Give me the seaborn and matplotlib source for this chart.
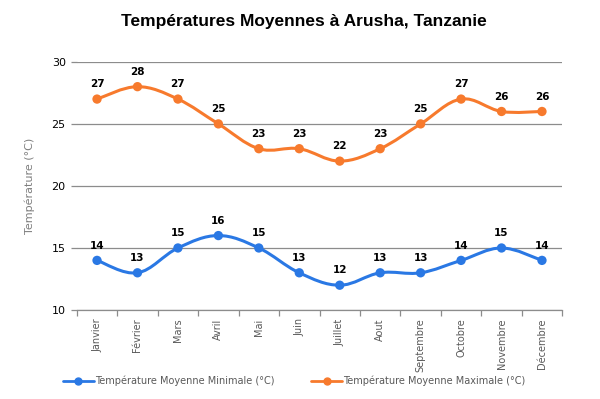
import numpy as np
import pandas as pd
import matplotlib
matplotlib.use('Agg')
import matplotlib.pyplot as plt
from matplotlib.path import Path
from matplotlib.patches import PathPatch
from matplotlib.lines import Line2D
import seaborn as sns

# Données
mois = ['Janvier', 'Février', 'Mars', 'Avril', 'Mai', 'Juin', 'Juillet',
        'Aout', 'Septembre', 'Octobre', 'Novembre', 'Décembre']
temp_min = [14, 13, 15, 16, 15, 13, 12, 13, 13, 14, 15, 14]
temp_max = [27, 28, 27, 25, 23, 23, 22, 23, 25, 27, 26, 26]
nom_min = 'Température Moyenne Minimale (°C)'
nom_max = 'Température Moyenne Maximale (°C)'

BLEU = '#2a78e4'
ORANGE = '#f77a2d'
GRIS = '#595959'


def courbe_lisse(ax, xs, ys, couleur, tension=0.18):
    # courbe de Bezier passant par les points (style "spline" d'Excel)
    pts = np.column_stack([xs, ys]).astype(float)
    verts = [tuple(pts[0])]
    codes = [Path.MOVETO]
    n = len(pts)
    for i in range(n - 1):
        p0 = pts[i - 1] if i > 0 else pts[i]
        p1 = pts[i]
        p2 = pts[i + 1]
        p3 = pts[i + 2] if i + 2 < n else pts[i + 1]
        c1 = p1 + (p2 - p0) * tension
        c2 = p2 - (p3 - p1) * tension
        verts += [tuple(c1), tuple(c2), tuple(p2)]
        codes += [Path.CURVE4] * 3
    ax.add_patch(PathPatch(Path(verts, codes), facecolor='none',
                           edgecolor=couleur, lw=2.2, zorder=3))


df = pd.DataFrame({
    'idx': list(range(len(mois))) * 2,
    'temp': temp_min + temp_max,
    'serie': [nom_min] * len(mois) + [nom_max] * len(mois),
})

sns.set_style('white')
plt.rcParams['font.family'] = ['DejaVu Sans']

fig = plt.figure(figsize=(6, 3.99), dpi=100)
ax = fig.add_axes([0.128, 0.223, 0.809, 0.622])

sns.scatterplot(data=df, x='idx', y='temp', hue='serie',
                palette={nom_min: BLEU, nom_max: ORANGE},
                s=45, edgecolor='none', legend=False, zorder=4, ax=ax)

for vals, coul in [(temp_min, BLEU), (temp_max, ORANGE)]:
    courbe_lisse(ax, np.arange(len(mois)), vals, coul)
    for i, v in enumerate(vals):
        ax.annotate(str(v), (i, v), xytext=(0, 7), textcoords='offset points',
                    ha='center', va='bottom', fontsize=7.5, fontweight='bold',
                    color='black')

ax.set_xlim(-0.5, len(mois) - 0.5)
ax.set_ylim(10, 30)
ax.set_yticks([10, 15, 20, 25, 30])
ax.yaxis.grid(True, color='#8c8c8c', lw=0.9)
ax.set_axisbelow(True)

ax.set_xticks(np.arange(len(mois)))
ax.set_xticklabels(mois, rotation=90, fontsize=7, color=GRIS)
ax.set_xticks(np.arange(len(mois) + 1) - 0.5, minor=True)
ax.tick_params(axis='x', which='major', length=0, pad=6, bottom=True)
ax.tick_params(axis='x', which='minor', length=4, color='#8c8c8c', width=0.9,
               bottom=True)
ax.tick_params(axis='y', length=4, color='#8c8c8c', width=0.9, left=True,
               labelsize=8, labelcolor='black', pad=4)

for s in ['top', 'right', 'left']:
    ax.spines[s].set_visible(False)
ax.spines['bottom'].set_color('#8c8c8c')
ax.spines['bottom'].set_linewidth(0.9)

ax.set_xlabel('')
ax.set_ylabel('Température (°C)', fontsize=8, color='#7f7f7f', labelpad=12)

fig.suptitle('Températures Moyennes à Arusha, Tanzanie', x=0.507, y=0.965,
             fontsize=12.5, fontweight='bold', color='black',
             family=['Liberation Sans', 'DejaVu Sans'])

poignees = [Line2D([], [], color=BLEU, lw=2, marker='o', markersize=5),
            Line2D([], [], color=ORANGE, lw=2, marker='o', markersize=5)]
fig.legend(poignees, [nom_min, nom_max], loc='center', ncol=2,
           bbox_to_anchor=(0.49, 0.045), frameon=False, fontsize=7,
           labelcolor=GRIS, handlelength=3.2, handletextpad=0.1,
           columnspacing=3.8)

fig.savefig('out.png', dpi=100)
